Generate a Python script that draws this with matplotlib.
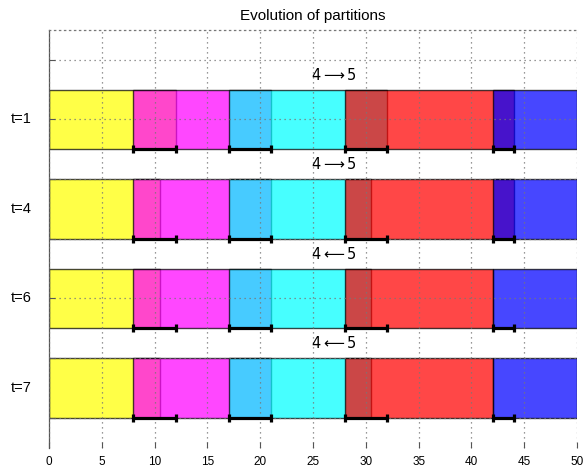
import matplotlib
matplotlib.use("Agg")
import matplotlib.pyplot as plt
import matplotlib.transforms as mtransforms
import numpy as np

plt.rcParams['font.family'] = ['Liberation Sans', 'DejaVu Sans']

# Data
rows = ['t=1', 't=4', 't=6', 't=7']
cluster_colors = ['yellow', 'magenta', 'cyan', 'red', 'blue']
cluster_starts = [0, 8, 17, 28, 42]
ends_t1 = [12, 21, 32, 44, 50]
ends_t4 = [10.5, 21, 30.5, 44, 50]
ends_t6 = [10.5, 21, 30.5, 42, 50]
ends_t7 = [10.5, 21, 30.5, 42, 50]
row_ends = [ends_t1, ends_t4, ends_t6, ends_t7]
overlap_lo = [8, 17, 28, 42]
overlap_hi = [12, 21, 32, 44]
transitions = [r'$4\longrightarrow5$', r'$4\longrightarrow5$',
               r'$4\longleftarrow5$', r'$4\longleftarrow5$']
xticks = [0, 5, 10, 15, 20, 25, 30, 35, 40, 45, 50]

fig = plt.figure(figsize=(5.84, 4.67), dpi=100)
ax = fig.add_axes([49/584, 1-447.5/467, (577-49)/584, (447.5-30)/467])

n = len(rows)
bottoms = [(n - 1 - i) * 1.5 for i in range(n)]
centers = [b + 0.5 for b in bottoms]

for k, col in enumerate(cluster_colors):
    lefts = [cluster_starts[k]] * n
    widths = [row_ends[i][k] - cluster_starts[k] for i in range(n)]
    ax.barh(centers, widths, left=lefts, height=1.0, color=col, alpha=0.72,
            edgecolor='k', linewidth=1.0, zorder=1)

lo = np.array(overlap_lo, dtype=float)
hi = np.array(overlap_hi, dtype=float)
for i in range(n):
    ax.errorbar((lo + hi) / 2, [bottoms[i]] * len(lo), xerr=(hi - lo) / 2,
                fmt='none', ecolor='k', elinewidth=2.3, capsize=3.0,
                capthick=2.3, zorder=3)
    ax.text(27, bottoms[i] + 1.25, transitions[i], ha='center', va='center',
            fontsize=10.5, zorder=4)

trans = mtransforms.blended_transform_factory(ax.transAxes, ax.transData)
for i in range(n):
    ax.text(-0.033, centers[i], rows[i], transform=trans, ha='right',
            va='center', fontsize=10.5)

ax.set_xlim(0, 50)
ax.set_ylim(-0.5, 6.5)
ax.set_xticks(xticks)
ax.set_xticklabels([str(v) for v in xticks], fontsize=8.5)
ax.set_yticks(range(7))
ax.set_yticklabels([])
ax.tick_params(axis='both', direction='in', length=4, color='#555555',
               width=0.8)
ax.tick_params(axis='x', pad=6)
ax.set_axisbelow(False)
ax.grid(True, linestyle=(0, (1, 3)), color='#777777', linewidth=0.9)
ax.spines['right'].set_visible(False)
ax.spines['bottom'].set_visible(False)
ax.spines['top'].set_linestyle((0, (1, 3)))
ax.spines['top'].set_color('#777777')
ax.spines['top'].set_linewidth(0.9)
ax.spines['left'].set_color('#555555')
ax.spines['left'].set_linewidth(0.9)
ax.set_title('Evolution of partitions', fontsize=11, pad=7)

fig.savefig('out.png', dpi=100)
